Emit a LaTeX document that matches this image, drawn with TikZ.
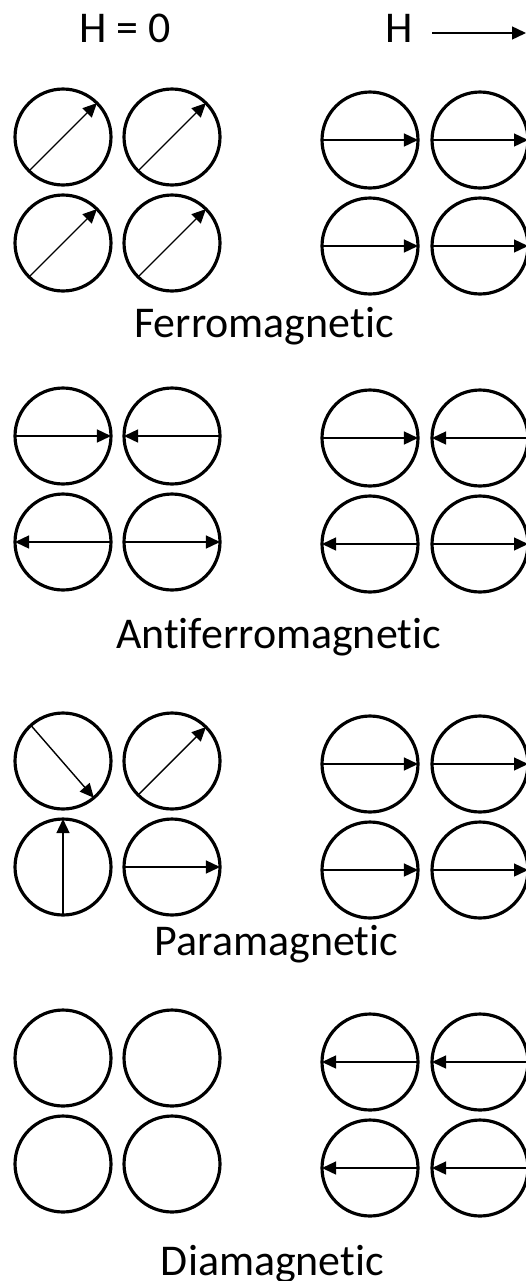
\documentclass[tikz,border=0pt]{standalone}
\usepackage{fontspec}
\setmainfont[Ligatures=NoCommon]{Carlito}
\usetikzlibrary{arrows.meta, positioning}

\begin{document}
\begin{tikzpicture}[
  x=0.02cm, y=-0.02cm,
  spin/.style={draw, circle, line width=1.8pt, minimum size=1.92cm, inner sep=0pt, outer sep=0pt},
  moment/.style={draw, line width=0.8pt, -{Triangle[length=0.28cm, width=0.26cm]}},
  caption/.style={anchor=base, inner sep=0pt, font=\fontsize{25}{30}\selectfont}
]
\useasboundingbox (0,0) rectangle (526,1281);

% four lattices per phase: z = no field, h = with field
\foreach \grp/\yl/\yr in {ferro/137/140, anti/436/438, para/761/764, dia/1058/1062} {
  \node[spin] (\grp-z1) at (63,\yl) {};
  \node[spin] (\grp-z2) at (172,\yl) {};
  \node[spin] (\grp-z3) at (63,\yl+106) {};
  \node[spin] (\grp-z4) at (172,\yl+106) {};
  \node[spin] (\grp-h1) at (370,\yr) {};
  \node[spin] (\grp-h2) at (480,\yr) {};
  \node[spin] (\grp-h3) at (370,\yr+106) {};
  \node[spin] (\grp-h4) at (480,\yr+106) {};
}

% headings
\node[caption] (hzero) at (125,42) {H = 0};
\node[caption] (hfield) at (399.5,42) {H};
\coordinate (hstart) at (432,33);
\coordinate (hend) at (526,33);
\draw[moment] (hstart) -- (hend);

% ferromagnetic
\draw[moment] (ferro-z1.225) -- (ferro-z1.45);
\draw[moment] (ferro-z2.225) -- (ferro-z2.45);
\draw[moment] (ferro-z3.225) -- (ferro-z3.45);
\draw[moment] (ferro-z4.225) -- (ferro-z4.45);
\draw[moment] (ferro-h1.west) -- (ferro-h1.east);
\draw[moment] (ferro-h2.west) -- (ferro-h2.east);
\draw[moment] (ferro-h3.west) -- (ferro-h3.east);
\draw[moment] (ferro-h4.west) -- (ferro-h4.east);
\node[caption] (ferro-label) at (264,337) {Ferromagnetic};

% antiferromagnetic
\draw[moment] (anti-z1.west) -- (anti-z1.east);
\draw[moment] (anti-z2.east) -- (anti-z2.west);
\draw[moment] (anti-z3.east) -- (anti-z3.west);
\draw[moment] (anti-z4.west) -- (anti-z4.east);
\draw[moment] (anti-h1.west) -- (anti-h1.east);
\draw[moment] (anti-h2.east) -- (anti-h2.west);
\draw[moment] (anti-h3.east) -- (anti-h3.west);
\draw[moment] (anti-h4.west) -- (anti-h4.east);
\node[caption] (anti-label) at (278.5,648) {Antiferromagnetic};

% paramagnetic
\draw[moment] (para-z1.132) -- (para-z1.310);
\draw[moment] (para-z2.225) -- (para-z2.45);
\draw[moment] (para-z3.south) -- (para-z3.north);
\draw[moment] (para-z4.west) -- (para-z4.east);
\draw[moment] (para-h1.west) -- (para-h1.east);
\draw[moment] (para-h2.west) -- (para-h2.east);
\draw[moment] (para-h3.west) -- (para-h3.east);
\draw[moment] (para-h4.west) -- (para-h4.east);
\node[caption] (para-label) at (276.5,955) {Paramagnetic};

% diamagnetic
\draw[moment] (dia-h1.east) -- (dia-h1.west);
\draw[moment] (dia-h2.east) -- (dia-h2.west);
\draw[moment] (dia-h3.east) -- (dia-h3.west);
\draw[moment] (dia-h4.east) -- (dia-h4.west);
\node[caption] (dia-label) at (272.5,1275) {Diamagnetic};
\end{tikzpicture}
\end{document}
